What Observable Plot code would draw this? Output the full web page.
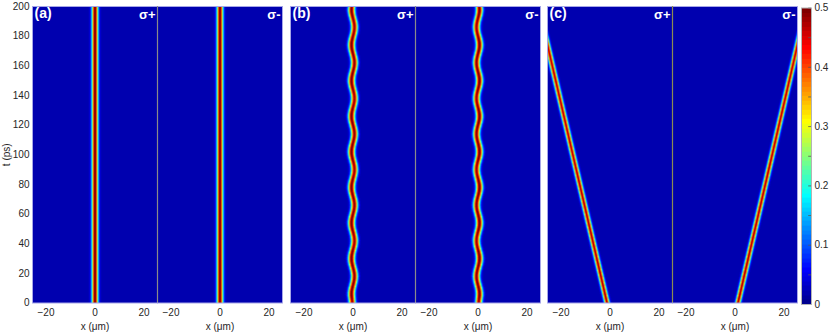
<!DOCTYPE html>
<html><head><meta charset="utf-8">
<script src="https://cdn.jsdelivr.net/npm/d3@7"></script>
<script src="https://cdn.jsdelivr.net/npm/@observablehq/plot@0.6"></script>
<style>
html,body{margin:0;padding:0;background:#fff;}
#chart{position:relative;width:830px;height:333px;overflow:hidden;font-family:"Liberation Sans",Arial,sans-serif;}
#chart svg{position:absolute;top:0;overflow:visible;}
</style></head><body><div id="chart"></div>
<script>
// ---- axes / labels ----
const tTicks = [0, 20, 40, 60, 80, 100, 120, 140, 160, 180, 200];
const xTicks = [-20, 0, 20];
const barTicks = [0, 0.1, 0.2, 0.3, 0.4, 0.5];
const barMinorTicks = [0.05, 0.15, 0.25, 0.35, 0.45];
const panelLabels = ["(a)", "(b)", "(c)"];
const spinLabels = ["σ+", "σ-"];
const xDomain = [-25.5, 25.5];
const tDomain = [0, 200];
const colorDomain = [0, 0.5];
const backgroundLevel = 0.016;

// ---- beam tracks: time (ps), centre (μm), peak intensity ----
const aTimes = [0, 200];
const aCenterPlus = [0, 0];
const aCenterMinus = [0, 0];
const aPeakPlus = [0.5, 0.5];
const aPeakMinus = [0.5, 0.5];

const bTimes = [0, 6, 18, 30, 42, 54, 66, 78, 90, 102, 114, 126, 138, 150, 162, 174, 186, 198, 200];
const bCenterPlus = [-0.3, -0.6, 0.6, -0.6, 0.6, -0.6, 0.6, -0.6, 0.6, -0.6, 0.6, -0.6, 0.6, -0.6, 0.6, -0.6, 0.6, -0.6, -0.5];
const bCenterMinus = [0.3, 0.6, -0.6, 0.6, -0.6, 0.6, -0.6, 0.6, -0.6, 0.6, -0.6, 0.6, -0.6, 0.6, -0.6, 0.6, -0.6, 0.6, 0.5];
const bPeakPlus = [0.47, 0.5, 0.48, 0.5, 0.47, 0.5, 0.48, 0.5, 0.47, 0.5, 0.48, 0.5, 0.47, 0.5, 0.48, 0.5, 0.47, 0.5, 0.48];
const bPeakMinus = [0.47, 0.5, 0.48, 0.5, 0.47, 0.5, 0.48, 0.5, 0.47, 0.5, 0.48, 0.5, 0.47, 0.5, 0.48, 0.5, 0.47, 0.5, 0.48];

const cTimes = [0, 174, 200];
const cCenterPlus = [-1.2, -25.5, -29.2];
const cCenterMinus = [1.2, 25.5, 29.2];
const cPeakPlus = [0.47, 0.46, 0.46];
const cPeakMinus = [0.47, 0.46, 0.46];

const beamWidths = [1.2, 1.3, 1.0]; // 1/e half-width (μm) per panel

// ---- jet colormap (64 levels, as in the colour bar) ----
function jet(v) {
  const k = Math.max(0, Math.min(63, Math.floor(v * 64)));
  const u = (k + 1) / 64;
  const c = (a) => Math.round(255 * Math.max(0, Math.min(1, 1.5 - Math.abs(4 * u - a))));
  return `rgb(${c(3)},${c(2)},${c(1)})`;
}
const colorScale = {type: "linear", domain: colorDomain, interpolate: jet, clamp: true};

function lookup(times, vals, smooth) {
  return (t) => {
    let i = 0;
    while (i < times.length - 2 && t > times[i + 1]) i++;
    let f = (t - times[i]) / (times[i + 1] - times[i]);
    f = Math.max(0, Math.min(1, f));
    if (smooth) f = (1 - Math.cos(Math.PI * f)) / 2;
    return vals[i] + (vals[i + 1] - vals[i]) * f;
  };
}

const panels = [
  {label: panelLabels[0], width: beamWidths[0], smooth: false, divider: "#8a8a8a",
   subs: [{times: aTimes, center: aCenterPlus, peak: aPeakPlus}, {times: aTimes, center: aCenterMinus, peak: aPeakMinus}]},
  {label: panelLabels[1], width: beamWidths[1], smooth: true, divider: "#8a8a8a",
   subs: [{times: bTimes, center: bCenterPlus, peak: bPeakPlus}, {times: bTimes, center: bCenterMinus, peak: bPeakMinus}]},
  {label: panelLabels[2], width: beamWidths[2], smooth: false, divider: "#8c8c50",
   subs: [{times: cTimes, center: cCenterPlus, peak: cPeakPlus}, {times: cTimes, center: cCenterMinus, peak: cPeakMinus}]}
];

const plotLefts = [32, 290, 547];
const subW = 125;
const plotTop = 6, plotH = 296.5;
const chart = document.getElementById("chart");
const font = {fontFamily: "'Liberation Sans', Arial, sans-serif", fontSize: "10px", color: "#262626", background: "transparent", overflow: "visible"};

panels.forEach((p, pi) => {
  p.subs.forEach((s, si) => {
    const first = pi === 0 && si === 0;
    const ml = first ? 32 : 12, mr = 12;
    const cx = lookup(s.times, s.center, p.smooth);
    const pk = lookup(s.times, s.peak, p.smooth);
    const w = p.width;
    const marks = [
      Plot.raster({
        fill: (x, t) => backgroundLevel + pk(t) * Math.exp(-Math.pow((x - cx(t)) / w, 2)),
        x1: xDomain[0], x2: xDomain[1], y1: tDomain[0], y2: tDomain[1]
      }),
      Plot.frame({stroke: "#a6a6e8", strokeWidth: 1})
    ];
    if (si === 1) marks.push(Plot.ruleX([xDomain[0]], {stroke: p.divider, strokeWidth: 1.2}));
    if (si === 0) marks.push(Plot.text([p.label], {text: (d) => d, frameAnchor: "top-left", textAnchor: "start", lineAnchor: "top", dx: 2, dy: 2, fill: "white", fontWeight: "bold", fontSize: 14}));
    marks.push(Plot.text([spinLabels[si]], {text: (d) => d, frameAnchor: "top-right", textAnchor: "end", lineAnchor: "top", dx: -2, dy: 3, fill: "white", fontWeight: "bold", fontSize: 13}));
    const svg = Plot.plot({
      width: ml + subW + mr, height: 333,
      marginLeft: ml, marginRight: mr, marginTop: plotTop, marginBottom: 333 - plotTop - plotH,
      style: font,
      x: {domain: xDomain, ticks: xTicks, tickSize: 0, tickPadding: 6, label: "x (μm)", labelAnchor: "center", labelArrow: "none", labelOffset: 27},
      y: {domain: tDomain, ticks: tTicks, tickSize: 0, tickPadding: 3, axis: first ? "left" : null, label: "t (ps)", labelAnchor: "center", labelArrow: "none", labelOffset: 30},
      color: colorScale,
      marks
    });
    svg.style.left = (plotLefts[pi] + si * subW - ml) + "px";
    chart.appendChild(svg);
  });
});

// ---- colour bar ----
const bar = Plot.plot({
  width: 35, height: 333, marginLeft: 6, marginRight: 19, marginTop: 7.5, marginBottom: 29,
  style: font,
  x: {domain: [0, 1], axis: null},
  y: {domain: colorDomain, ticks: barTicks, tickSize: 0, tickPadding: 3, axis: "right", label: null, tickFormat: (d) => (d === 0 ? "0" : d.toFixed(1))},
  color: colorScale,
  marks: [
    Plot.raster({fill: (x, v) => v, x1: 0, x2: 1, y1: colorDomain[0], y2: colorDomain[1]}),
    Plot.ruleY(barTicks.concat(barMinorTicks), {x1: 0.72, x2: 1, stroke: "#555", strokeWidth: 0.8}),
    Plot.frame({stroke: "#b4b4b4"})
  ]
});
bar.style.left = "795px";
chart.appendChild(bar);
</script></body></html>
